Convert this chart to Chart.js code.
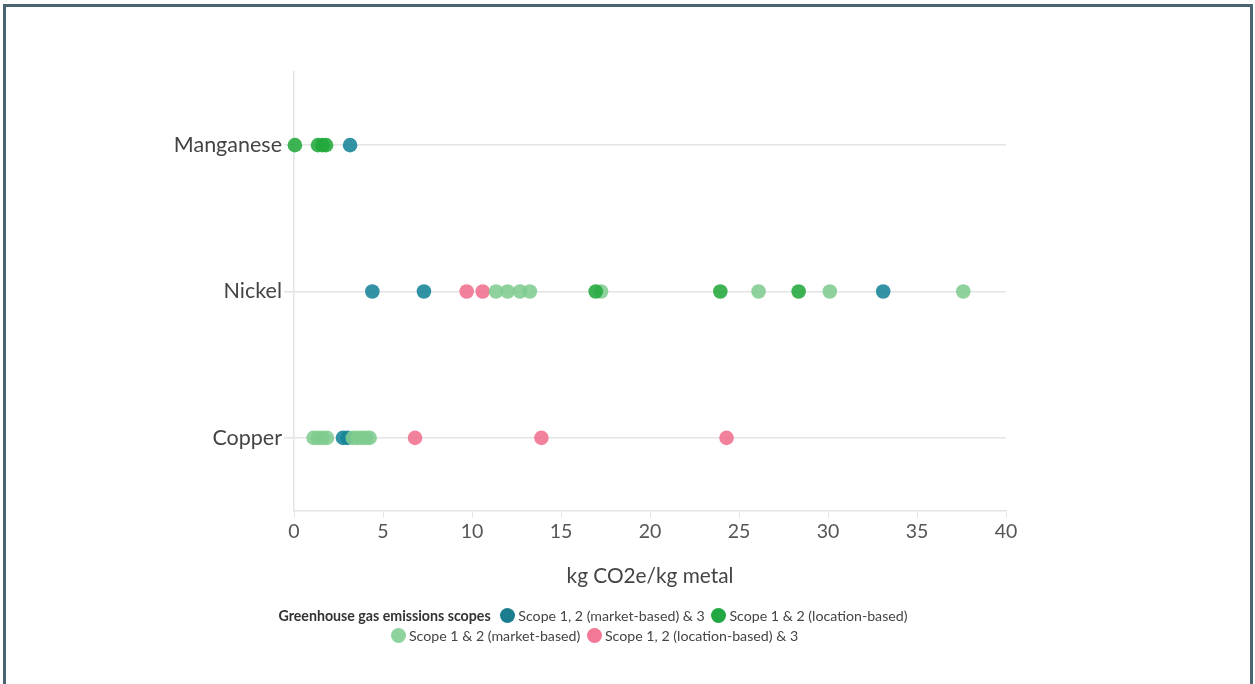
<!DOCTYPE html>
<html lang="en">
  <head>
    <meta charset="UTF-8" />
    <title>GHG emissions by metal</title>
    <script src="https://cdn.jsdelivr.net/npm/chart.js"></script>
    <style>
      body {
        margin: 0;
        background: #fff;
        font-family: Lato, "Open Sans", sans-serif;
        overflow: hidden;
      }
      #frame {
        position: absolute;
        left: 3px;
        top: 4px;
        width: 1250px;
        height: 720px;
        box-sizing: border-box;
        border: 3px solid #4b6472;
        border-bottom: none;
        pointer-events: none;
      }
      #chart {
        position: absolute;
        left: 0;
        top: 0;
      }
      .legend {
        position: absolute;
        left: 0;
        top: 606px;
        width: 1186px;
        text-align: center;
        font-size: 14.2px;
        line-height: 20px;
        color: #444;
      }
      .legend b {
        color: #333;
        margin-right: 3px;
      }
      .dot {
        display: inline-block;
        width: 15px;
        height: 15px;
        border-radius: 50%;
        vertical-align: -2px;
        margin: 0 3px 0 3px;
      }
    </style>
  </head>
  <body>
    <canvas id="chart" width="1255" height="684"></canvas>
    <div id="frame"></div>
    <div class="legend">
      <b>Greenhouse gas emissions scopes</b>
      <span class="dot" style="background: #1c7d8f"></span>Scope 1, 2 (market-based) &amp; 3
      <span class="dot" style="background: #22a843"></span>Scope 1 &amp; 2 (location-based)<br />
      <span class="dot" style="background: #8ed39e"></span>Scope 1 &amp; 2 (market-based)
      <span class="dot" style="background: #f27896"></span>Scope 1, 2 (location-based) &amp; 3
    </div>

    <script>
      const metals = ["Manganese", "Nickel", "Copper"];
      const xTicks = [0, 5, 10, 15, 20, 25, 30, 35, 40];

      // scope 1, 2 (market-based) & 3
      const marketScope3 = {
        Manganese: [3.15],
        Nickel: [4.4, 7.3, 33.1],
        Copper: [2.75, 3.0],
      };
      // scope 1 & 2 (location-based)
      const locationScope12 = {
        Manganese: [0.05, 1.35, 1.6, 1.8],
        Nickel: [16.95, 23.95, 28.35],
        Copper: [],
      };
      // scope 1 & 2 (market-based)
      const marketScope12 = {
        Manganese: [],
        Nickel: [11.35, 12.0, 12.7, 13.25, 17.25, 26.1, 30.1, 37.6],
        Copper: [1.1, 1.35, 1.6, 1.85, 3.3, 3.55, 3.8, 4.05, 4.25],
      };
      // scope 1, 2 (location-based) & 3
      const locationScope3 = {
        Manganese: [],
        Nickel: [9.7, 10.6],
        Copper: [6.8, 13.9, 24.3],
      };

      function toPoints(series) {
        const pts = [];
        metals.forEach((m) => {
          (series[m] || []).forEach((v) => pts.push({ x: v, y: m }));
        });
        return pts;
      }

      function ds(label, series, color) {
        return {
          label: label,
          data: toPoints(series),
          backgroundColor: color,
          borderWidth: 0,
          pointRadius: 7.3,
          pointHoverRadius: 7.3,
          clip: false,
        };
      }

      // first dataset is drawn on top
      const datasets = [
        ds("Scope 1 & 2 (location-based)", locationScope12, "rgba(34,168,60,0.88)"),
        ds("Scope 1 & 2 (market-based)", marketScope12, "rgba(128,204,144,0.88)"),
        ds("Scope 1, 2 (location-based) & 3", locationScope3, "rgba(240,112,142,0.88)"),
        ds("Scope 1, 2 (market-based) & 3", marketScope3, "rgba(22,132,152,0.88)"),
      ];

      new Chart(document.getElementById("chart"), {
        type: "scatter",
        data: { datasets: datasets },
        options: {
          responsive: false,
          animation: false,
          layout: { padding: { left: 0, right: 249, top: 72, bottom: 91 } },
          plugins: { legend: { display: false }, tooltip: { enabled: false } },
          scales: {
            x: {
              type: "linear",
              min: 0,
              max: 40,
              afterBuildTicks: (s) => {
                s.ticks = xTicks.map((v) => ({ value: v }));
              },
              afterFit: (s) => {
                s.height = 82;
              },
              grid: {
                drawOnChartArea: false,
                drawTicks: true,
                tickLength: 7,
                color: "#e4e4e4",
              },
              border: { color: "#e4e4e4", width: 1.5 },
              ticks: {
                color: "#555",
                padding: 2,
                font: { family: "Lato", size: 19.5 },
              },
              title: {
                display: true,
                text: "kg CO2e/kg metal",
                color: "#444",
                font: { family: "Lato", size: 20.8 },
              },
            },
            y: {
              type: "category",
              labels: metals,
              offset: true,
              afterFit: (s) => {
                s.width = 294;
              },
              grid: {
                offset: false,
                drawTicks: true,
                tickLength: 10,
                color: "#e4e4e4",
                lineWidth: 1.5,
              },
              border: { color: "#e4e4e4", width: 1.5 },
              ticks: {
                color: "#444",
                padding: 2,
                font: { family: "Lato", size: 21.5 },
              },
            },
          },
        },
      });
    </script>
  </body>
</html>
